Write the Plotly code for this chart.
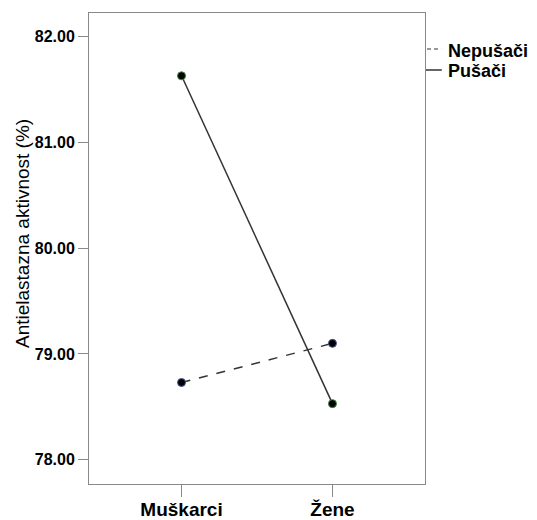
import plotly.graph_objects as go

categories = ["Muškarci", "Žene"]
pusaci = [81.63, 78.53]
nepusaci = [78.73, 79.10]
y_ticks = [78.0, 79.0, 80.0, 81.0, 82.0]
y_tick_labels = ["78.00", "79.00", "80.00", "81.00", "82.00"]
series_names = ["Nepušači", "Pušači"]
y_title = "Antielastazna aktivnost (%)"

FONT = "Liberation Sans, Arial, sans-serif"
xpos = list(range(len(categories)))

fig = go.Figure()
fig.add_trace(go.Scatter(
    x=xpos, y=nepusaci, mode="lines+markers", name=series_names[0],
    line=dict(color="#333333", width=1.5, dash="dash"),
    marker=dict(color="black", size=8, line=dict(color="#4a5a9a", width=1)),
    showlegend=False,
))
fig.add_trace(go.Scatter(
    x=xpos, y=pusaci, mode="lines+markers", name=series_names[1],
    line=dict(color="#333333", width=1.5),
    marker=dict(color="black", size=8, line=dict(color="#3a8a3a", width=1)),
    showlegend=False,
))

# manual legend outside the plot area
fig.add_shape(type="line", xref="paper", yref="paper", x0=1.006, x1=1.048, y0=0.9236, y1=0.9236,
              line=dict(color="#333333", width=1.2, dash="4px,3px"))
fig.add_shape(type="line", xref="paper", yref="paper", x0=1.003, x1=1.05, y0=0.879, y1=0.879,
              line=dict(color="#333333", width=1.5))
fig.add_annotation(xref="paper", yref="paper", x=1.068, y=0.920, text="<b>" + series_names[0] + "</b>",
                   showarrow=False, xanchor="left", yanchor="middle", xshift=-2,
                   font=dict(family=FONT, size=18, color="black"))
fig.add_annotation(xref="paper", yref="paper", x=1.068, y=0.877, text="<b>" + series_names[1] + "</b>",
                   showarrow=False, xanchor="left", yanchor="middle", xshift=-2,
                   font=dict(family=FONT, size=18, color="black"))

# y-axis title placed as rotated text
fig.add_annotation(xref="paper", yref="paper", x=-0.196, y=0.531, text=y_title, textangle=-90,
                   showarrow=False, xanchor="center", yanchor="middle",
                   font=dict(family=FONT, size=19, color="black"))

fig.update_layout(
    width=537, height=520,
    margin=dict(l=81, r=120, t=5, b=44),
    paper_bgcolor="white", plot_bgcolor="white",
    font=dict(family=FONT, size=16, color="black"),
)
fig.update_xaxes(
    range=[-0.613, 1.613], tickvals=xpos, ticktext=["<b>" + c + "</b>" for c in categories],
    showline=True, linecolor="#888888", linewidth=1, mirror=True,
    ticks="outside", ticklen=12, tickcolor="#888888", showgrid=False, zeroline=False,
    ticklabelstandoff=-4, automargin=False,
    tickfont=dict(family=FONT, size=19, color="black"),
)
fig.update_yaxes(
    range=[77.77, 82.224], tickvals=y_ticks, ticktext=["<b>" + t + "</b>" for t in y_tick_labels],
    showline=True, linecolor="#888888", linewidth=1, mirror=True,
    ticks="outside", ticklen=10, tickcolor="#888888", showgrid=False, zeroline=False,
    automargin=False,
    tickfont=dict(family=FONT, size=16, color="black"),
)

fig.write_html("out.html")
